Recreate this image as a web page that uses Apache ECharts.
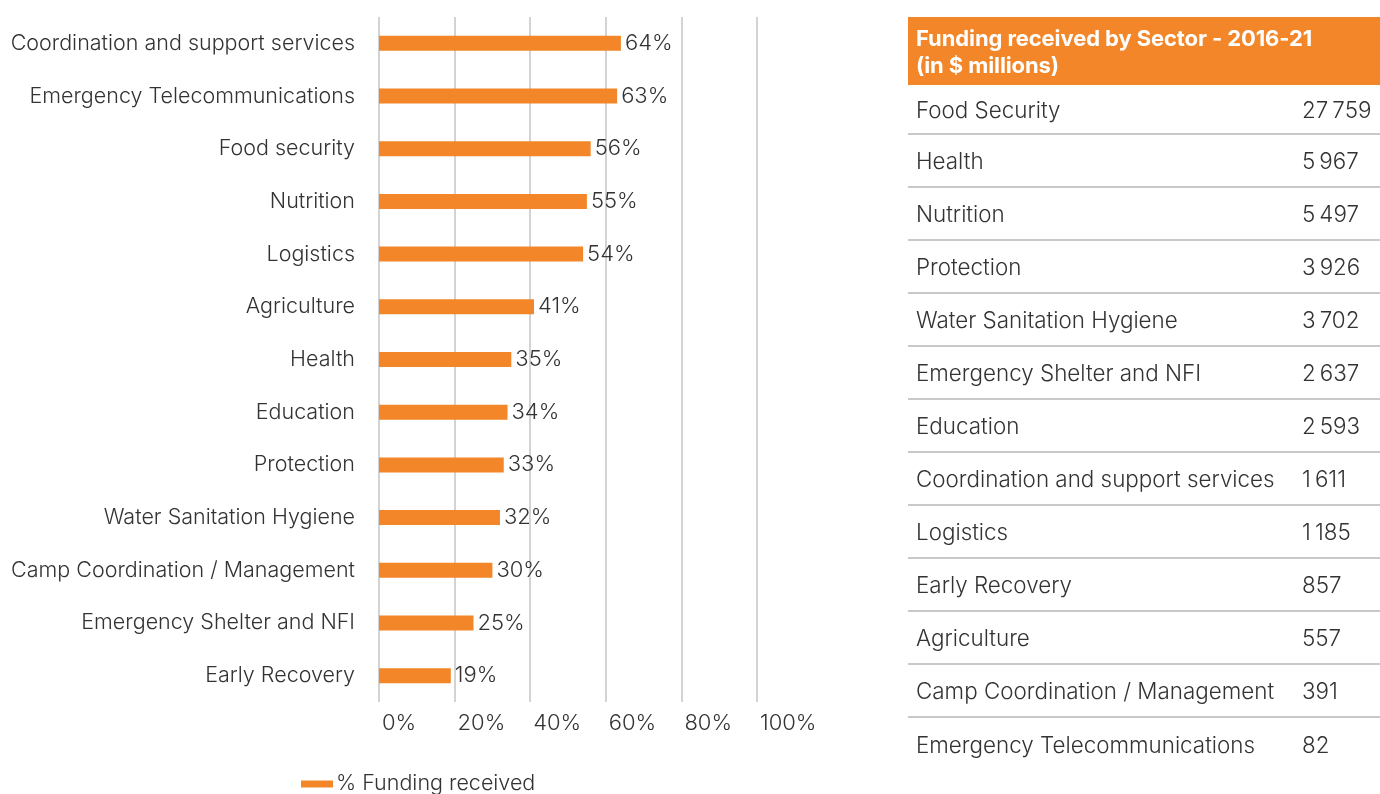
<!DOCTYPE html>
<html>
<head>
<meta charset="utf-8">
<script src="https://cdn.jsdelivr.net/npm/echarts@6/dist/echarts.min.js"></script>
<style>
  html, body { margin: 0; padding: 0; background: #fff; }
  #chart { position: absolute; left: 0; top: 0; width: 1380px; height: 794px; }
  #table {
    position: absolute; left: 908px; top: 17px; width: 472px;
    font-family: Inter, Roboto, sans-serif; font-weight: 300; color: #333;
  }
  #table .head {
    background: #f28628; color: #fff; font-weight: 700; font-size: 22px;
    line-height: 27px; height: 68px; box-sizing: border-box; padding: 8px 0 0 8px;
    letter-spacing: -0.1px;
  }
  #table .row {
    display: flex; height: 53px; align-items: center; font-size: 22.4px;
    border-bottom: 2px solid #c9c9c9; box-sizing: border-box;
  }
  #table .row.first { height: 50px; }
  #table .row:last-child { border-bottom: none; }
  #table .name { width: 386px; padding-left: 8px; white-space: nowrap; }
</style>
</head>
<body>
<div id="chart"></div>
<div id="table"></div>
<script>
// left chart: % funding received by sector
var sectors = [
  "Coordination and support services",
  "Emergency Telecommunications",
  "Food security",
  "Nutrition",
  "Logistics",
  "Agriculture",
  "Health",
  "Education",
  "Protection",
  "Water Sanitation Hygiene",
  "Camp Coordination / Management",
  "Emergency Shelter and NFI",
  "Early Recovery"
];
var pctFunded = [64, 63, 56, 55, 54, 41, 35, 34, 33, 32, 30, 25, 19];
var xTicks = [0, 20, 40, 60, 80, 100];

// right table: funding received 2016-21 ($ millions)
var tableTitle = ["Funding received by Sector - 2016-21", "(in $ millions)"];
var tableSectors = [
  "Food Security",
  "Health",
  "Nutrition",
  "Protection",
  "Water Sanitation Hygiene",
  "Emergency Shelter and NFI",
  "Education",
  "Coordination and support services",
  "Logistics",
  "Early Recovery",
  "Agriculture",
  "Camp Coordination / Management",
  "Emergency Telecommunications"
];
var tableValues = [27759, 5967, 5497, 3926, 3702, 2637, 2593, 1611, 1185, 857, 557, 391, 82];

var orange = "#f28628";
var txt = "#333";
var font = "Inter";

function fmt(n) {
  return String(n).replace(/\B(?=(\d{3})+(?!\d))/g, "\u2009");
}

// build table
var tbl = document.getElementById("table");
var html = '<div class="head">' + tableTitle.join("<br>") + "</div>";
tableSectors.forEach(function(s, i) {
  html += '<div class="row' + (i === 0 ? " first" : "") + '"><div class="name">' + s + '</div><div class="val">' + fmt(tableValues[i]) + "</div></div>";
});
tbl.innerHTML = html;

var myChart = echarts.init(document.getElementById("chart"));
myChart.setOption({
  animation: false,
  textStyle: { fontFamily: font, fontWeight: 300 },
  legend: {
    data: ["% Funding received"],
    left: 301,
    top: 773,
    padding: 0,
    itemWidth: 32,
    itemHeight: 7,
    itemGap: 0,
    icon: "rect",
    textStyle: { fontSize: 21.5, color: txt, fontFamily: font, fontWeight: 300, padding: [0, 0, 0, -2] }
  },
  grid: {
    left: 379,
    top: 17,
    width: 378,
    height: 685,
    containLabel: false
  },
  xAxis: {
    type: "value",
    min: xTicks[0],
    max: xTicks[xTicks.length - 1],
    interval: 20,
    axisLine: { show: false },
    axisTick: { show: false },
    splitLine: { show: true, lineStyle: { color: "#c4c4c4", width: 1.5 } },
    axisLabel: {
      formatter: "{value}%",
      color: txt,
      fontSize: 22,
      fontFamily: font,
      fontWeight: 300,
      align: "left",
      margin: 10,
      padding: [0, 0, 0, 3]
    }
  },
  yAxis: {
    type: "category",
    data: sectors,
    inverse: true,
    axisLine: { show: false },
    axisTick: { show: false },
    axisLabel: { color: txt, fontSize: 21.5, fontFamily: font, fontWeight: 300, margin: 24 }
  },
  series: [
    {
      name: "% Funding received",
      type: "bar",
      barWidth: 15,
      itemStyle: { color: orange },
      label: {
        show: true,
        position: "right",
        distance: 4,
        formatter: "{c}%",
        color: txt,
        fontSize: 22,
        fontFamily: font,
        fontWeight: 300
      },
      data: pctFunded
    }
  ]
});
</script>
</body>
</html>
